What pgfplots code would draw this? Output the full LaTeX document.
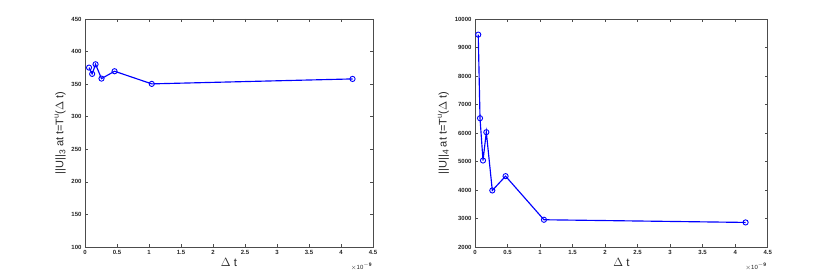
\documentclass[border=0pt]{standalone}
\usepackage{pgfplots}
\pgfplotsset{compat=1.18}
\usepackage{fontspec}
\setmainfont{Liberation Sans}
\newcommand{\sub}[1]{\raisebox{-0.35ex}{\fontsize{8.5}{9}\selectfont #1}}
\newcommand{\sups}[1]{\raisebox{0.8ex}{\fontsize{7.5}{8}\selectfont #1}}
\begin{document}
\begin{tikzpicture}
\path[use as bounding box] (0pt,0pt) rectangle (813pt,275pt);
\pgfplotsset{
  every axis/.append style={
    scale only axis,
    anchor=south west,
    xmin=0, xmax=4.5,
    xtick={0,0.5,...,4.5},
    xticklabels={0,0.5,1,1.5,2,2.5,3,3.5,4,4.5},
    scaled y ticks=false,
    tick align=inside,
    major tick length=3pt,
    axis line style={draw=black!70, line width=0.6pt},
    tick style={draw=black!70, line width=0.5pt},
    /pgf/number format/assume math mode=true,
    /pgf/number format/1000 sep={},
    ticklabel style={font=\fontsize{6}{7}\selectfont\bfseries, text=black!85},
    xlabel style={font=\fontsize{11.5}{12}\selectfont, text=black!85, yshift=3pt},
    ylabel style={font=\fontsize{11}{12}\selectfont, text=black!85, yshift=-1pt},
    xlabel={$\Delta$ t},
    clip=false,
  },
  myline/.style={blue, line width=1.15pt, mark=o, mark size=2.6pt, mark options={line width=0.9pt}},
}
\begin{axis}[at={(85pt,28pt)}, width=288pt, height=228pt,
  ymin=100, ymax=450, ytick={100,150,...,450},
  ylabel={||U||\sub{3} at t=T\sups{u}($\Delta$ t)}]
\addplot[myline] coordinates {
(0.063,375.4) (0.112,365.7) (0.165,380.5) (0.258,358.5) (0.462,369.8) (1.043,350.4) (4.18,358)
};
\node[font=\fontsize{6}{7}\selectfont, text=black!85, anchor=north] at (rel axis cs:0.96,-0.055) {$\times$10$^{\mathbf{-9}}$};
\end{axis}
\begin{axis}[at={(475pt,28pt)}, width=292.7pt, height=228pt,
  ymin=2000, ymax=10000, ytick={2000,3000,...,10000},
  ylabel={||U||\sub{4} at t=T\sups{u}($\Delta$ t)}]
\addplot[myline] coordinates {
(0.05,9451) (0.077,6519) (0.123,5035) (0.174,6028) (0.266,3984) (0.47,4486) (1.06,2956) (4.16,2862)
};
\node[font=\fontsize{6}{7}\selectfont, text=black!85, anchor=north] at (rel axis cs:0.96,-0.055) {$\times$10$^{\mathbf{-9}}$};
\end{axis}
\end{tikzpicture}
\end{document}
